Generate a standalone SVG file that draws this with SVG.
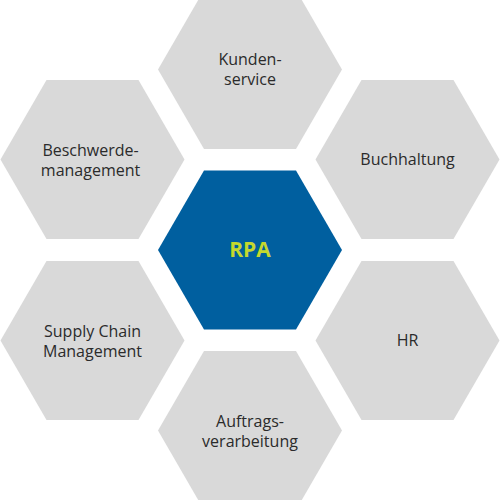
<svg xmlns="http://www.w3.org/2000/svg" xmlns:xlink="http://www.w3.org/1999/xlink" width="500" height="500" viewBox="0 0 500 500">
  <style>
    .hex { fill: #d9d9d9; }
    .hex-main { fill: #005f9f; }
    .lbl { font-family: "Open Sans", "Noto Sans", "Liberation Sans", sans-serif; font-size: 16px; fill: #2b2b2b; text-anchor: middle; }
    .main-lbl { font-family: "Open Sans", "Noto Sans", "Liberation Sans", sans-serif; font-size: 21px; font-weight: bold; fill: #c4d82e; text-anchor: middle; }
  </style>
  <defs>
    <path id="hexagon" d="M-92,0 L-46,-79.5 L46,-79.5 L92,0 L46,79.5 L-46,79.5 Z"/>
  </defs>
  <rect width="500" height="500" fill="#ffffff"/>
  <g id="connectors"/>
  <g id="node-kundenservice" transform="translate(250,69.5)">
    <use xlink:href="#hexagon" href="#hexagon" class="hex"/>
    <text class="lbl" x="0" y="-5">Kunden-</text>
    <text class="lbl" x="0" y="15">service</text>
  </g>
  <g id="node-beschwerdemanagement" transform="translate(92.5,159.5)">
    <use xlink:href="#hexagon" href="#hexagon" class="hex"/>
    <text class="lbl" x="-2" y="-4">Beschwerde-</text>
    <text class="lbl" x="-2" y="16">management</text>
  </g>
  <g id="node-buchhaltung" transform="translate(407.5,159.5)">
    <use xlink:href="#hexagon" href="#hexagon" class="hex"/>
    <text class="lbl" x="0" y="5.5">Buchhaltung</text>
  </g>
  <g id="node-rpa" transform="translate(250,250)">
    <use xlink:href="#hexagon" href="#hexagon" class="hex-main"/>
    <text class="main-lbl" x="0" y="7">RPA</text>
  </g>
  <g id="node-supplychain" transform="translate(92.5,340.5)">
    <use xlink:href="#hexagon" href="#hexagon" class="hex"/>
    <text class="lbl" x="0" y="-4">Supply Chain</text>
    <text class="lbl" x="0" y="16">Management</text>
  </g>
  <g id="node-hr" transform="translate(407.5,340.5)">
    <use xlink:href="#hexagon" href="#hexagon" class="hex"/>
    <text class="lbl" x="0" y="5.5">HR</text>
  </g>
  <g id="node-auftragsverarbeitung" transform="translate(250,430.5)">
    <use xlink:href="#hexagon" href="#hexagon" class="hex"/>
    <text class="lbl" x="0" y="-4">Auftrags-</text>
    <text class="lbl" x="0" y="16">verarbeitung</text>
  </g>
</svg>
